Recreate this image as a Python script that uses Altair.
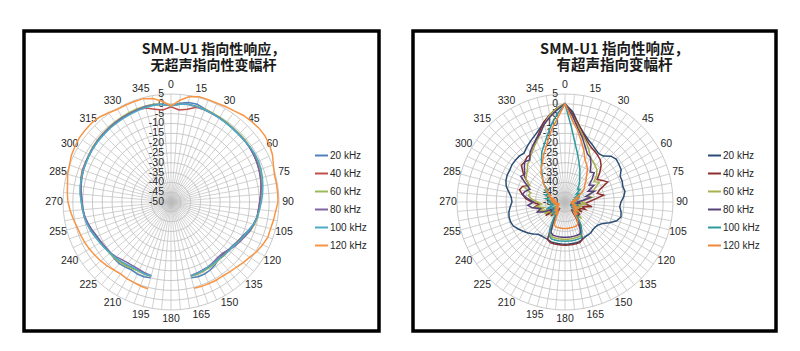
import altair as alt
import pandas as pd

# ---------------- data ----------------
ANGLES = list(range(0, 360, 5))
SERIES = ["20 kHz", "40 kHz", "60 kHz", "80 kHz", "100 kHz", "120 kHz"]
RING_LEVELS = [-45, -40, -35, -30, -25, -20, -15, -10, -5, 0, 5]
RADIAL_TICKS = [5, 0, -5, -10, -15, -20, -25, -30, -35, -40, -45, -50]
ANGLE_LABELS = list(range(0, 360, 15))

LEFT_TITLE = ["SMM-U1 指向性响应，", "无超声指向性变幅杆"]
RIGHT_TITLE = ["SMM-U1 指向性响应，", "有超声指向变幅杆"]

LEFT_COLORS = ["#4F81BD", "#C0504D", "#9BBB59", "#8064A2", "#4BACC6", "#F79646"]
RIGHT_COLORS = ["#2C4D75", "#8B2E2E", "#A9B04E", "#56407A", "#2E9A9E", "#F0883A"]

# left chart (no horn): angles 0..355 step 5, no data 170..190
L20 = [-1, 0.5, 1.5, 1.5, 0.5, 0, -0.5, -0.8, -1, -1.2, -1.2, -1.2,
       -1.5, -1.8, -2.2, -2.8, -3.3, -4, -4.5, -5, -5.5, -6.5, -8, -9.5,
       -10.5, -11.5, -12, -12.5, -12, -11, -10, -9.5, -9.5, -10, None, None,
       None, None, None, -10, -9.5, -9.5, -10, -9.5, -9, -9.2, -9.5, -9.5,
       -9, -8.5, -7.5, -6.5, -5.5, -5, -4.8, -4.2, -3.5, -3, -2.5, -2.3,
       -2, -1.8, -1.5, -1.2, -1, -0.8, -0.5, -0.3, 0, 0.5, 0.5, 0]
L40 = [-1.5, -3, -2, 0, 0, -0.3, -0.5, -0.8, -1, -1, -1, -1,
       -1.2, -1.6, -2, -2.5, -3.2, -4, -4.8, -5.3, -5.5, -6.5, -7.5, -9,
       -10.5, -11, -11.5, -12, -12, -12, -11.5, -11.2, -11, -11, None, None,
       None, None, None, -11, -11, -11.2, -11, -10.5, -10, -9.8, -9.5, -9,
       -8.5, -8, -7, -6, -5.3, -4.8, -4.5, -4, -3.3, -2.5, -2, -2,
       -1.8, -1.5, -1.2, -1, -0.8, -0.5, -0.3, -0.3, 0, -0.5, -2, -3]
L60 = [-1, 0, 0.5, 0.5, 0.3, 0, -0.3, -0.5, -0.8, -0.8, -0.8, -1,
       -1, -1.3, -1.8, -2.3, -2.8, -3.5, -4.2, -4.8, -5.2, -6, -7, -8.5,
       -10, -11, -11.5, -11.5, -11.8, -11.5, -11.2, -11, -10.8, -10.8, None, None,
       None, None, None, -10.8, -10.8, -11, -10.8, -10.2, -9.8, -9.5, -9.2, -9,
       -8.5, -7.8, -6.8, -6, -5.3, -4.8, -4.3, -3.8, -3.2, -2.8, -2.3, -2,
       -1.7, -1.3, -1, -0.8, -0.5, -0.3, 0, 0.3, 0.5, 0.5, 0.5, 0]
L80 = [-1, 0, 0.5, 0.3, 0, -0.3, -0.6, -0.9, -1.1, -1.2, -1.2, -1.3,
       -1.5, -1.8, -2.3, -2.8, -3.5, -4.2, -4.8, -5.3, -5.5, -6.3, -7.2, -8.5,
       -9.5, -10.5, -12, -13, -13, -12.5, -12, -11.8, -11.5, -11.2, None, None,
       None, None, None, -11.2, -11.5, -12, -12.2, -12, -11.5, -10.5, -9.8, -9.5,
       -9, -8.3, -7.3, -6.3, -5.5, -5, -4.6, -4, -3.4, -2.8, -2.4, -2.1,
       -1.9, -1.6, -1.3, -1.1, -0.9, -0.6, -0.4, -0.2, 0, 0.3, 0.2, 0]
L100 = [-1, 0, 0.5, 0.3, 0, -0.3, -0.7, -1, -1.2, -1.3, -1.2, -1,
        -0.8, -0.8, -1.2, -1.8, -2.5, -3.2, -4, -4.8, -5.5, -6.5, -7.8, -9,
        -10, -11, -11.5, -11.8, -12, -12, -11.8, -11.5, -11.2, -11, None, None,
        None, None, None, -11, -11, -11.3, -11.5, -11, -10.5, -10, -9.5, -9,
        -8.3, -7.5, -6.5, -5.8, -5.2, -4.8, -4.3, -3.5, -3, -2.8, -2.5, -2.3,
        -2, -1.8, -1.6, -1.5, -1.3, -1.2, -1, -0.8, -0.5, -0.2, 0, 0]
L120 = [-1, 2, 4.5, 5.5, 5.5, 5.5, 6, 6.5, 7.5, 8, 8.5, 8.5,
        8, 7, 5.5, 4.5, 4.5, 4.5, 4.5, 3.5, 3, 2.5, 2.5, 1.5,
        0.5, -1, -2, -3, -3.5, -4, -4, -4.2, -4.3, -4.5, None, None,
        None, None, None, -4.3, -4.5, -4.8, -5, -5.3, -4.8, -4, -3.3, -2.7,
        -2, -1.5, -1, -0.5, 0.5, 1.5, 2.5, 3, 3.5, 4.5, 5, 6,
        6.5, 7, 7, 7, 6.5, 5.5, 4.5, 4.5, 4.5, 4.5, 3.5, 1.5]

# right chart (with horn): angles 0..355 step 5, closed loop
R20 = [0, -4, -10, -13.5, -16, -17.5, -19, -20, -19.5, -17, -16, -16.5,
       -17, -19, -19, -19.5, -19, -20, -21.5, -22, -21, -20.5, -22, -25,
       -28, -29.5, -30, -30, -29.5, -29.5, -29.5, -29, -28.5, -28.5, -28.5, -28.5,
       -28.5, -28.5, -28.5, -28.5, -28.5, -29, -29, -29, -28.5, -27, -25.5, -24,
       -22.5, -21, -20.5, -20.5, -21, -22, -23, -22.5, -21, -19, -18, -17.5,
       -17.5, -17, -17, -17, -17.5, -16, -14.5, -13, -11, -8, -5, -2]
R40 = [0, -5, -10, -14, -17, -19, -20, -21, -22, -24, -27, -30,
       -28, -26, -31, -33, -30, -35, -38, -40, -36, -41, -39, -43,
       -40, -44, -40, -42, -45, -40, -35, -29, -28, -28, -28, -28,
       -28, -28, -28, -28, -28, -29, -36, -41, -44, -40, -43, -38,
       -42, -39, -36, -38, -34, -37, -33, -30, -28, -26, -27, -30,
       -27, -24, -21, -21, -20, -20, -18, -15, -12, -8, -5, -2]
R60 = [0, -6, -11, -15, -18, -21, -24, -25, -26, -27, -29, -32,
       -30, -33, -35, -38, -36, -40, -42, -39, -43, -41, -44, -42,
       -45, -41, -44, -38, -42, -36, -33, -31, -31, -31, -31, -31,
       -31, -31, -31, -31, -31, -32, -38, -44, -41, -45, -40, -43,
       -38, -41, -36, -39, -35, -38, -36, -33, -31, -32, -28, -30,
       -27, -26, -25, -23, -22, -20, -18, -16, -13, -9, -5, -2]
R80 = [0, -6, -12, -16, -20, -23, -24, -27, -30, -29, -32, -35,
       -33, -37, -34, -39, -37, -41, -44, -42, -46, -43, -45, -47,
       -44, -46, -43, -40, -44, -38, -34, -32, -32, -32, -32, -32,
       -32, -32, -32, -32, -32, -33, -38, -43, -46, -42, -45, -41,
       -43, -38, -35, -37, -33, -31, -34, -31, -28, -29, -31, -28,
       -24, -25, -23, -21, -22, -19, -17, -15, -13, -9, -6, -3]
R100 = [0, -12, -20, -25, -29, -32, -35, -37, -39, -41, -40, -43,
        -41, -44, -42, -45, -43, -46, -44, -47, -45, -43, -46, -44,
        -47, -45, -42, -44, -40, -36, -33, -30, -30, -30, -30, -30,
        -30, -30, -30, -30, -30, -31, -35, -40, -44, -41, -45, -42,
        -46, -43, -40, -44, -42, -45, -41, -43, -40, -42, -39, -41,
        -38, -39, -36, -34, -32, -29, -26, -22, -19, -15, -10, -5]
R120 = [0, -8, -13, -18, -22, -26, -28, -30, -33, -35, -37, -38,
        -40, -42, -44, -43, -46, -44, -47, -45, -47, -44, -46, -43,
        -45, -42, -44, -41, -43, -39, -37, -36.5, -36.5, -36.5, -36.5, -36.5,
        -36.5, -36.5, -36.5, -36.5, -36.5, -37, -41, -44, -42, -45, -43, -46,
        -44, -47, -45, -47, -44, -46, -43, -45, -42, -44, -41, -42,
        -39, -38, -36, -34, -31, -29, -27, -24, -21, -17, -12, -7]

LEFT_VALUES = dict(zip(SERIES, [L20, L40, L60, L80, L100, L120]))
RIGHT_VALUES = dict(zip(SERIES, [R20, R40, R60, R80, R100, R120]))

# ---------------- layout ----------------
K = 108 / 55          # pixels per dB of radius
H = 300               # frame height
CY = 171              # polar centre, px from frame top
OUTER = 55            # outer ring (+5 dB) measured from -50 dB centre
LABEL_R = 117 / K
GRID = "#bdbdbd"
TXT = "#262626"
FONT = "Liberation Sans"


def panel(values, colors, title, W, CX, title_dx, title_size, legend_x, start, closed):
    xs = alt.Scale(domain=[-CX / K, (W - CX) / K], nice=False, zero=False)
    ys = alt.Scale(domain=[-(H - CY) / K, CY / K], nice=False, zero=False)

    def X(f):
        return alt.X(f, type="quantitative", scale=xs, axis=None)

    def Y(f):
        return alt.Y(f, type="quantitative", scale=ys, axis=None)

    rings = pd.DataFrame([{"ring": lv, "angle": a} for lv in RING_LEVELS for a in ANGLES])
    ring_layer = alt.Chart(rings).transform_calculate(
        x="(datum.ring + 50) * sin(datum.angle * PI / 180)",
        y="(datum.ring + 50) * cos(datum.angle * PI / 180)",
    ).mark_line(interpolate="linear-closed", stroke=GRID, strokeWidth=0.8).encode(
        x=X("x"), y=Y("y"), detail="ring:N", order="angle:Q"
    )

    spokes = alt.Chart(pd.DataFrame({"angle": ANGLES})).transform_calculate(
        x0="0",
        y0="0",
        x1=f"{OUTER} * sin(datum.angle * PI / 180)",
        y1=f"{OUTER} * cos(datum.angle * PI / 180)",
    ).mark_rule(stroke=GRID, strokeWidth=0.7).encode(
        x=X("x0"), y=Y("y0"), x2="x1:Q", y2="y1:Q"
    )

    alab = alt.Chart(pd.DataFrame({"angle": ANGLE_LABELS})).transform_calculate(
        x=f"{LABEL_R} * sin(datum.angle * PI / 180)",
        y=f"{LABEL_R} * cos(datum.angle * PI / 180)",
    ).mark_text(font=FONT, fontSize=10.5, color=TXT, baseline="middle").encode(
        x=X("x"), y=Y("y"), text="angle:N"
    )

    rlab = alt.Chart(pd.DataFrame({"tick": RADIAL_TICKS})).transform_calculate(
        x="0", y="datum.tick + 50"
    ).mark_text(font=FONT, fontSize=10.5, color=TXT, align="right", baseline="middle", dx=-7).encode(
        x=X("x"), y=Y("y"), text="tick:N"
    )

    rows = [{"series": s, "angle": a, "v": v}
            for s in SERIES for a, v in zip(ANGLES, values[s])]
    df = pd.DataFrame(rows)
    lines = alt.Chart(df).transform_filter("isValid(datum.v)").transform_calculate(
        x="(datum.v + 50) * sin(datum.angle * PI / 180)",
        y="(datum.v + 50) * cos(datum.angle * PI / 180)",
        seq=f"(datum.angle - {start} + 360) % 360",
    ).mark_line(strokeWidth=1.5, interpolate="linear-closed" if closed else "linear").encode(
        x=X("x"),
        y=Y("y"),
        order="seq:Q",
        color=alt.Color(
            "series:N",
            scale=alt.Scale(domain=SERIES, range=colors),
            legend=alt.Legend(
                title=None, orient="none", legendX=legend_x, legendY=117,
                symbolType="stroke", symbolSize=169, symbolStrokeWidth=2,
                labelFont=FONT, labelFontSize=10, labelColor=TXT,
                labelOffset=1, rowPadding=5, padding=0,
            ),
        ),
    )

    return alt.layer(ring_layer, spokes, rlab, alab, lines).properties(
        width=W,
        height=H,
        title=alt.Title(
            text=title, anchor="middle", frame="group", offset=-42, baseline="top",
            dx=title_dx, fontSize=title_size, font="Noto Sans CJK SC",
            fontWeight="bold", color="#1a1a1a", lineHeight=16,
        ),
    )


left = panel(LEFT_VALUES, LEFT_COLORS, LEFT_TITLE, 355, 147, 12, 14, 290, 195, False)
right = panel(RIGHT_VALUES, RIGHT_COLORS, RIGHT_TITLE, 363, 152, 20, 14.5, 294, 0, True)

chart = alt.hconcat(left, right, spacing=30).resolve_scale(
    color="independent", x="independent", y="independent"
).properties(
    padding={"left": 22, "top": 29, "right": 5, "bottom": 5},
    background="white",
).configure_view(stroke="black", strokeWidth=3.5)

chart.save("out.html", embed_options={"renderer": "svg", "actions": False})
